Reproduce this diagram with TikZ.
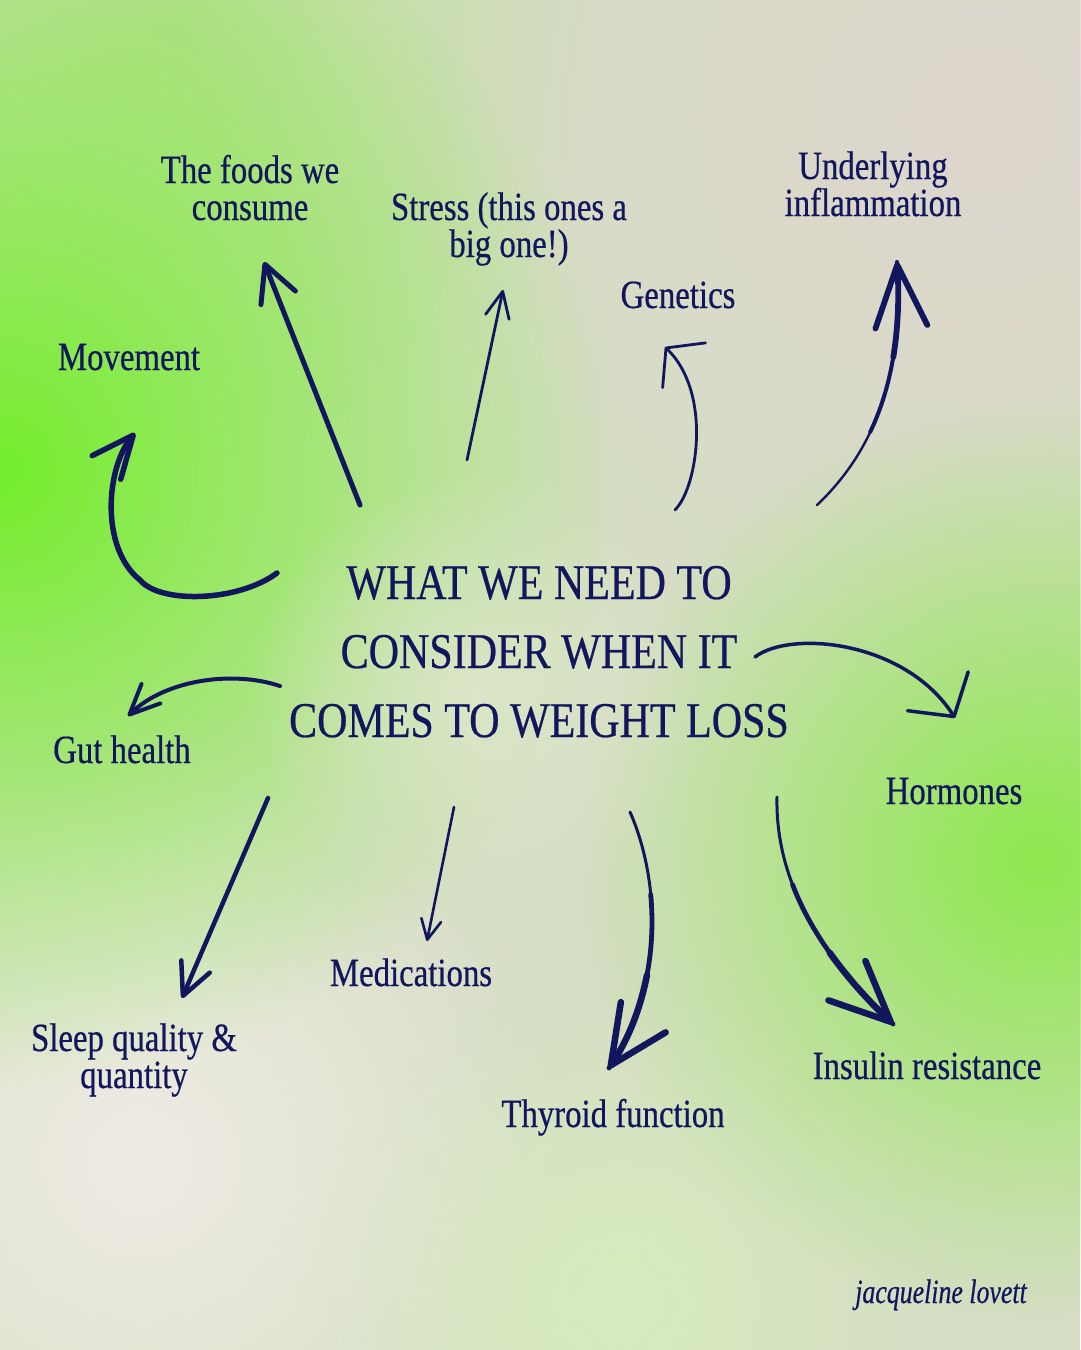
\documentclass[tikz,border=0pt]{standalone}
\usepackage{fontspec}
\usepackage{graphicx}
\setmainfont{Liberation Serif}
\newfontfamily\lblfont{Liberation Serif}[FakeStretch=0.82,FakeBold=0.5]
\newfontfamily\ttlfont{Liberation Serif}[FakeStretch=0.84,FakeBold=0.5]
\newfontfamily\sigfont{Liberation Serif Italic}[FakeStretch=0.76,FakeBold=0.5]
\usetikzlibrary{arrows.meta,fadings}
\definecolor{navy}{RGB}{18,22,92}
\definecolor{bgbase}{RGB}{214,222,196}
\definecolor{beige}{RGB}{222,214,206}
\definecolor{lime}{RGB}{116,238,44}
\definecolor{rgreen}{RGB}{140,232,76}
\definecolor{offwhite}{RGB}{240,236,229}
\definecolor{palec}{RGB}{220,230,200}
\definecolor{palegreen}{RGB}{214,236,190}
\definecolor{topgreen}{RGB}{186,224,150}
\tikzfading[name=blob, inner color=transparent!0, outer color=transparent!100]
\begin{document}
\begin{tikzpicture}[x=1pt,y=-1pt,
  lbl/.style={font=\lblfont\fontsize{40}{37}\selectfont, text=navy, align=center, inner sep=0pt, anchor=base},
  ttl/.style={font=\ttlfont\fontsize{50}{69}\selectfont, text=navy, align=center, inner sep=0pt, anchor=base},
  sig/.style={font=\sigfont\fontsize{34}{34}\selectfont, text=navy, inner sep=0pt, anchor=base},
  arr/.style={draw=navy, line cap=round, line join=round}]
\useasboundingbox (0,0) rectangle (1080,1350);
% background
\fill[bgbase] (0,0) rectangle (1080,1350);
\fill[topgreen, path fading=blob] (180,20) circle (440pt);
\fill[beige, path fading=blob] (980,120) circle (560pt);
\fill[offwhite, path fading=blob] (140,1160) circle (440pt);
\fill[palegreen, path fading=blob] (620,1300) circle (320pt);
\fill[lime, path fading=blob] (0,470) circle (620pt);
\fill[rgreen, path fading=blob] (1040,860) circle (460pt);
\fill[palec, path fading=blob] (480,700) circle (230pt);

% labels (anchor = baseline of the last line)
\node[lbl] (foods) at (250,220) {The foods we\\consume};
\node[lbl] (stress) at (509,257) {Stress (this ones a\\big one!)};
\node[lbl] (inflam) at (873,216) {Underlying\\inflammation};
\node[lbl] (genetics) at (678,308) {Genetics};
\node[lbl] (movement) at (129,370) {Movement};
\node[lbl] (gut) at (122,763) {Gut health};
\node[lbl] (hormones) at (954,804) {Hormones};
\node[lbl] (meds) at (411,986) {Medications};
\node[lbl] (sleep) at (134,1088) {Sleep quality \&\\quantity};
\node[lbl] (thyroid) at (613,1127) {Thyroid function};
\node[lbl] (insulin) at (927,1079) {Insulin resistance};
\node[ttl] (title) at (539,737) {WHAT WE NEED TO\\CONSIDER WHEN IT\\COMES TO WEIGHT LOSS};
\node[sig] (signature) at (941,1303) {jacqueline lovett};

% arrow end points
\coordinate (movS) at (277,573);   \coordinate (movT) at (135,433);
\coordinate (foodS) at (360,505);  \coordinate (foodT) at (264,262);
\coordinate (strS) at (467,460);   \coordinate (strT) at (503,290);
\coordinate (genS) at (675,510);   \coordinate (genT) at (665,347);
\coordinate (infS) at (817,505);   \coordinate (infT) at (897,262);
\coordinate (gutS) at (280,686);   \coordinate (gutT) at (128,716);
\coordinate (horS) at (755,657);   \coordinate (horT) at (955,718);
\coordinate (slpS) at (268,798);   \coordinate (slpT) at (182,998);
\coordinate (medS) at (454,807);   \coordinate (medT) at (427,941);
\coordinate (thyS) at (630,812);   \coordinate (thyT) at (609,1068);
\coordinate (insS) at (777,797);   \coordinate (insT) at (893,1024);

% arrows
\draw[arr, line width=5.5, -{Straight Barb[length=42,width=37,round]}]
  (movS) .. controls (238,602) and (160,604) .. (140,580)
         .. controls (100,548) and (106,468) .. (movT);
\draw[arr, line width=5, -{Straight Barb[length=36,width=37,round]}] (foodS) -- (foodT);
\draw[arr, line width=2.8, -{Straight Barb[length=26,width=24,round]}] (strS) -- (strT);
\draw[arr, line width=2.8, -{Straight Barb[length=25,width=62,round]}]
  (genS) .. controls (698,487) and (712,392) .. (genT);
% underlying inflammation (tapered: thin at start)
\draw[arr, line width=2.4] (infS) .. controls (870,455) and (905,380) .. (infT);
\draw[arr, line width=4] (870.3,431.8) .. controls (891.1,388.1) and (901.8,332.8) .. (infT);
\draw[arr, line width=5.8, -{Straight Barb[length=62,width=52,round]}]
  (893.3,357.1) .. controls (897.9,328.9) and (899.4,297.4) .. (infT);
\draw[arr, line width=4, -{Straight Barb[length=30,width=27,round]}]
  (gutS) .. controls (232,670) and (165,680) .. (gutT);
\draw[arr, line width=3.5, -{Straight Barb[length=30,width=72,round]}]
  (horS) .. controls (790,630) and (905,640) .. (horT);
\draw[arr, line width=4.5, -{Straight Barb[length=32,width=31,round]}] (slpS) -- (slpT);
\draw[arr, line width=2.6, -{Straight Barb[length=20,width=20,round]}] (medS) -- (medT);
% thyroid (tapered)
\draw[arr, line width=3] (thyS) .. controls (660,880) and (665,985) .. (thyT);
\draw[arr, line width=4.8] (650.7,894.4) .. controls (656,950.8) and (645.4,1014.05) .. (thyT);
\draw[arr, line width=6.5, -{Straight Barb[length=58,width=54,round]}]
  (646.9,975.3) .. controls (640.7,1007.2) and (628.6,1038.95) .. (thyT);
% insulin (tapered)
\draw[arr, line width=3] (insS) .. controls (775,885) and (825,960) .. (insT);
\draw[arr, line width=4.8] (792.6,884.7) .. controls (812.2,936.2) and (848.8,982.4) .. (insT);
\draw[arr, line width=6.5, -{Straight Barb[length=60,width=54,round]}]
  (829.7,952.7) .. controls (847.6,977.9) and (869.2,1001.6) .. (insT);
\end{tikzpicture}
\end{document}
